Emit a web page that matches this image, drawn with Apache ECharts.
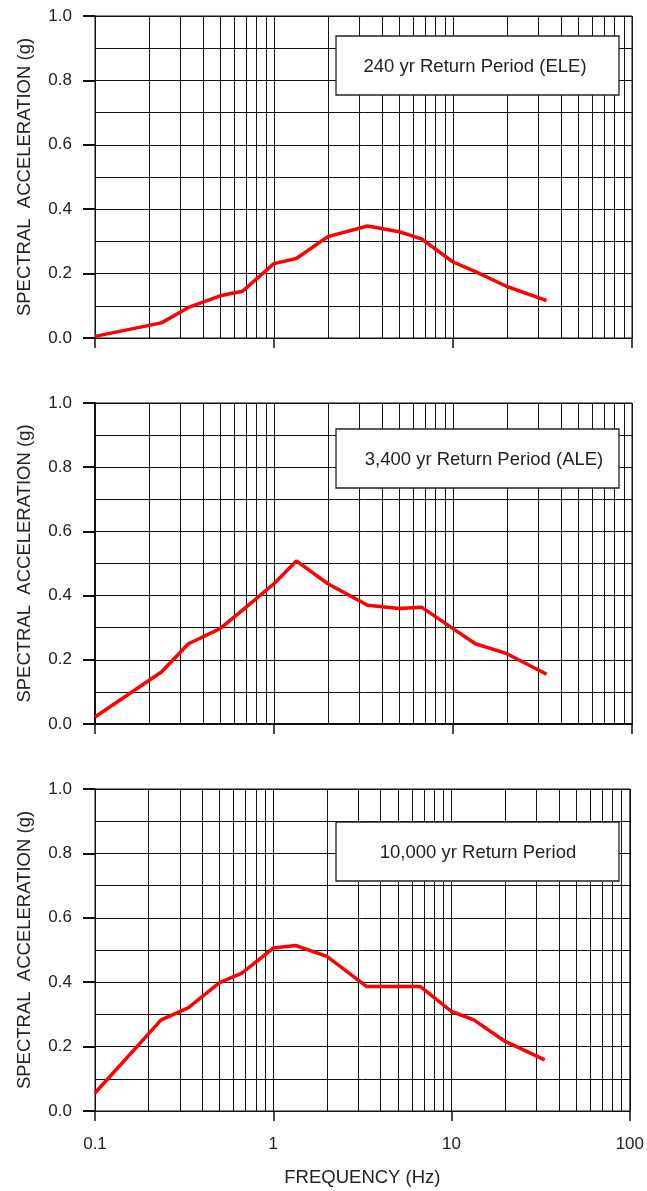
<!DOCTYPE html>
<html>
<head>
<meta charset="utf-8">
<script src="https://cdn.jsdelivr.net/npm/echarts@6/dist/echarts.min.js"></script>
<style>
    html, body { margin: 0; padding: 0; background: #fff; }
    #chart { width: 647px; height: 1191px; }
</style>
</head>
<body>
<div id="chart"></div>
<script>
// frequencies (Hz) and spectral acceleration (g)
const freqHz = [0.1, 0.235, 0.333, 0.5, 0.667, 1, 1.333, 2, 3.333, 5, 6.667, 10, 13.33, 20, 33.33];
const sa240 = [0.005, 0.047, 0.095, 0.131, 0.145, 0.231, 0.247, 0.315, 0.348, 0.330, 0.308, 0.236, 0.206, 0.160, 0.116];
const sa3400 = [0.022, 0.162, 0.250, 0.297, 0.355, 0.437, 0.508, 0.437, 0.370, 0.360, 0.364, 0.297, 0.250, 0.219, 0.155];
const sa10000 = [0.056, 0.283, 0.320, 0.399, 0.428, 0.506, 0.514, 0.480, 0.387, 0.387, 0.387, 0.309, 0.283, 0.216, 0.159];
const panelNames = ['240 yr Return Period (ELE)', '3,400 yr Return Period (ALE)', '10,000 yr Return Period'];
const yTicks = [0, 0.2, 0.4, 0.6, 0.8, 1.0];

const font = '"Liberation Sans", Arial, sans-serif';
const ink = '#111';

const panels = [
    {top: 16, height: 322, data: sa240, box: {y: 36, h: 59, cx: 475}, axisW: 1},
    {top: 403, height: 321, data: sa3400, box: {y: 429, h: 59, cx: 484}, axisW: 2},
    {top: 789, height: 322, data: sa10000, box: {y: 822, h: 59, cx: 478}, axisW: 1}
];

let grid = [], xAxis = [], yAxis = [], series = [], graphic = [];
panels.forEach(function (p, i) {
    const last = i === panels.length - 1;
    grid.push({
        left: 95, right: 15, top: p.top, height: p.height,
        show: true, borderColor: ink, borderWidth: 1
    });
    xAxis.push({
        type: 'log', logBase: 10, min: 0.1, max: 100, gridIndex: i,
        axisLine: {lineStyle: {color: ink, width: p.axisW}},
        axisTick: {show: true, inside: false, length: 10, lineStyle: {color: ink, width: 1.5}},
        axisLabel: {
            show: last, margin: 25, fontSize: 17, fontFamily: font, color: '#222',
            formatter: function (v) { return String(+v.toPrecision(3)); }
        },
        splitLine: {show: true, lineStyle: {color: ink, width: 1}},
        minorTick: {show: false, splitNumber: 9},
        minorSplitLine: {show: true, lineStyle: {color: ink, width: 1}},
        name: last ? 'FREQUENCY (Hz)' : '',
        nameLocation: 'middle', nameGap: 57,
        nameTextStyle: {fontSize: 18.5, fontFamily: font, color: '#222'}
    });
    yAxis.push({
        type: 'value', min: yTicks[0], max: yTicks[yTicks.length - 1], interval: 0.2, gridIndex: i,
        axisLine: {show: true, lineStyle: {color: ink, width: p.axisW}},
        axisTick: {show: true, inside: false, length: 12, lineStyle: {color: ink, width: 2}},
        axisLabel: {
            margin: 23, fontSize: 17, fontFamily: font, color: '#222',
            formatter: function (v) { return v.toFixed(1); }
        },
        splitLine: {show: true, lineStyle: {color: ink, width: 1}},
        minorTick: {show: false, splitNumber: 2},
        minorSplitLine: {show: true, lineStyle: {color: ink, width: 1}},
        name: 'SPECTRAL  ACCELERATION (g)',
        nameLocation: 'middle', nameGap: 61, nameRotate: 90,
        nameTextStyle: {fontSize: 18.5, fontFamily: font, color: '#222'}
    });
    series.push({
        type: 'line', xAxisIndex: i, yAxisIndex: i,
        data: freqHz.map(function (f, j) { return [f, p.data[j]]; }),
        symbol: 'none', smooth: false,
        lineStyle: {color: '#ff0000', width: 3.5},
        z: 5
    });
    // return period label box
    graphic.push({
        type: 'rect', z: 100,
        shape: {x: 336, y: p.box.y, width: 283, height: p.box.h},
        style: {fill: '#fff', stroke: '#222', lineWidth: 1.3}
    }, {
        type: 'text', z: 101,
        x: p.box.cx, y: p.box.y + p.box.h / 2 + 1,
        style: {
            text: panelNames[i], fill: '#222', fontSize: 18.5, fontFamily: font,
            align: 'center', verticalAlign: 'middle'
        }
    });
});

const chart = echarts.init(document.getElementById('chart'));
chart.setOption({
    animation: false,
    backgroundColor: '#fff',
    grid: grid,
    xAxis: xAxis,
    yAxis: yAxis,
    series: series,
    graphic: graphic
});
</script>
</body>
</html>
